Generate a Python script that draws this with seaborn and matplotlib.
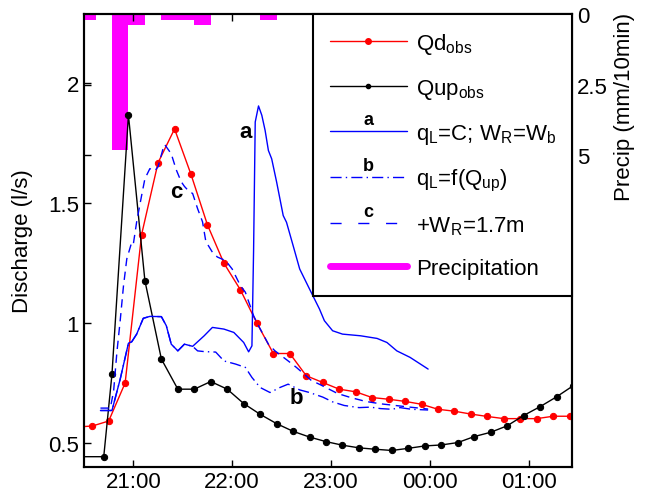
import matplotlib
matplotlib.use("Agg")
import matplotlib.pyplot as plt
from matplotlib.lines import Line2D
from matplotlib.ticker import FuncFormatter
import seaborn as sns
import pandas as pd

sns.set_style("ticks", {"xtick.direction": "in", "ytick.direction": "in",
                        "axes.edgecolor": "black", "xtick.color": "black",
                        "ytick.color": "black", "text.color": "black",
                        "axes.labelcolor": "black"})
plt.rcParams["font.family"] = ["Liberation Sans", "DejaVu Sans"]
plt.rcParams["mathtext.default"] = "regular"

# observed discharge, 10 min steps
qd_start = "20:25"
qd_obs = [0.565, 0.569, 0.590, 0.749, 1.369, 1.669, 1.810, 1.620, 1.409, 1.249,
          1.138, 0.999, 0.872, 0.872, 0.779, 0.751, 0.723, 0.712, 0.688, 0.681,
          0.672, 0.660, 0.639, 0.631, 0.619, 0.609, 0.600, 0.600, 0.600, 0.610, 0.610]

qup_first_times = ["20:27", "20:42", "20:47"]
qup_start = "20:57"
qup_obs = [0.441, 0.441, 0.786,
           1.868, 1.176, 0.849, 0.723, 0.723, 0.755, 0.723, 0.663, 0.618, 0.579,
           0.547, 0.523, 0.504, 0.489, 0.478, 0.472, 0.467, 0.476, 0.486, 0.490,
           0.500, 0.525, 0.543, 0.570, 0.613, 0.650, 0.691, 0.737]

# model runs
a_times = ["20:40", "20:47", "20:52", "20:57", "20:59", "21:02", "21:06", "21:10",
           "21:17", "21:20", "21:23", "21:27", "21:31", "21:36", "21:43", "21:48",
           "21:55", "22:01", "22:07", "22:10", "22:12", "22:13", "22:14", "22:16",
           "22:18", "22:20", "22:22", "22:24", "22:27", "22:31", "22:33", "22:37",
           "22:41", "22:47", "22:53", "22:56", "23:01", "23:07", "23:18", "23:28",
           "23:34", "23:40", "23:48", "23:59"]
a_vals = [0.634, 0.634, 0.765, 0.915, 0.921, 0.953, 1.019, 1.027, 1.026, 0.988,
          0.911, 0.883, 0.911, 0.902, 0.946, 0.981, 0.974, 0.960, 0.918, 0.879,
          0.904, 1.300, 1.839, 1.906, 1.867, 1.804, 1.720, 1.685, 1.588, 1.448,
          1.420, 1.323, 1.225, 1.141, 1.058, 1.009, 0.967, 0.953, 0.946, 0.935,
          0.918, 0.883, 0.856, 0.807]

b_times = ["20:40", "20:47", "20:52", "20:57", "20:59", "21:02", "21:06", "21:10",
           "21:17", "21:20", "21:23", "21:27", "21:31", "21:36", "21:39", "21:43",
           "21:50", "21:55", "22:02", "22:08", "22:12", "22:17", "22:23", "22:29",
           "22:34", "22:41", "22:47", "22:55", "23:01", "23:08", "23:17", "23:24",
           "23:30", "23:37", "23:42", "23:49", "23:59"]
b_vals = [0.634, 0.634, 0.765, 0.915, 0.921, 0.953, 1.019, 1.027, 1.026, 0.988,
          0.911, 0.883, 0.911, 0.902, 0.883, 0.880, 0.878, 0.841, 0.828, 0.814,
          0.772, 0.730, 0.709, 0.730, 0.744, 0.720, 0.709, 0.690, 0.670, 0.655,
          0.646, 0.648, 0.642, 0.639, 0.646, 0.639, 0.636]

c_times = ["20:40", "20:46", "20:48", "20:50", "20:52", "20:54", "20:56", "20:59",
           "21:00", "21:02", "21:05", "21:07", "21:10", "21:13", "21:15", "21:18",
           "21:19", "21:23", "21:26", "21:29", "21:31", "21:33", "21:36", "21:39",
           "21:42", "21:44", "21:48", "21:51", "21:56", "22:00", "22:05", "22:08",
           "22:13", "22:16", "22:22", "22:26", "22:34", "22:39", "22:48", "22:54",
           "23:04", "23:12", "23:21", "23:30", "23:39", "23:48", "23:59"]
c_vals = [0.644, 0.644, 0.715, 0.878, 1.010, 1.155, 1.267, 1.337, 1.330, 1.422,
          1.532, 1.602, 1.644, 1.635, 1.652, 1.727, 1.745, 1.706, 1.640, 1.590,
          1.570, 1.555, 1.540, 1.477, 1.422, 1.340, 1.295, 1.275, 1.260, 1.225,
          1.155, 1.128, 1.030, 0.988, 0.911, 0.883, 0.841, 0.814, 0.760, 0.740,
          0.705, 0.688, 0.672, 0.662, 0.655, 0.648, 0.640]

# precipitation, 10 min totals
precip_times = ["20:27", "20:47", "20:57", "21:17", "21:27", "21:37", "22:17"]
precip = [0.2, 4.8, 0.4, 0.2, 0.2, 0.4, 0.2]

tick_times = ["21:00", "22:00", "23:00", "00:00", "01:00"]
legend_labels = [r"Qd$_{obs}$", r"Qup$_{obs}$", r"q$_L$=C; W$_R$=W$_b$",
                 r"q$_L$=f(Q$_{up}$)", r"+W$_R$=1.7m", "Precipitation"]

T0 = pd.Timestamp("2000-01-01 20:00")


def clock(times):
    # "HH:MM" -> hours after 20:00 (past midnight rolls over)
    out = []
    for t in times:
        h, m = t.split(":")
        v = int(h) + int(m) / 60 - 20
        if v < 0:
            v += 24
        out.append(v)
    return out


def regular(start, n):
    idx = pd.date_range(pd.Timestamp("2000-01-01 " + start), periods=n, freq="10min")
    return list((idx - T0) / pd.Timedelta(hours=1))


qd_x = regular(qd_start, len(qd_obs))
qup_x = clock(qup_first_times) + regular(qup_start, len(qup_obs) - 3)

fig, ax = plt.subplots(figsize=(6.49, 5.02), dpi=100)
fig.subplots_adjust(left=0.1294, right=0.8814, bottom=0.0687, top=0.9701)

ax2 = ax.twinx()
ax2.bar(clock(precip_times), precip, width=1 / 6, align="edge", color="magenta", linewidth=0)
ax2.set_ylim(16, 0)
ax2.set_yticks([0, 2.5, 5])
ax2.yaxis.set_major_formatter(FuncFormatter(lambda v, p: f"{v:g}"))
ax2.tick_params(axis="y", direction="in", left=True, right=True, labelleft=False,
                labelright=True, length=5, width=1, labelsize=16)
ax2.set_ylabel("Precip (mm/10min)", fontsize=16)
ax2.yaxis.set_label_coords(1.085, 0.797)

ax.set_zorder(ax2.get_zorder() + 1)
ax.patch.set_visible(False)

sns.lineplot(x=qd_x, y=qd_obs, ax=ax, color="red", marker="o", markersize=4.5,
             markeredgecolor="red", linewidth=1, estimator=None, sort=False)
sns.lineplot(x=qup_x, y=qup_obs, ax=ax, color="black", marker="o", markersize=4.5,
             markeredgecolor="black", linewidth=1, estimator=None, sort=False)
sns.lineplot(x=clock(a_times), y=a_vals, ax=ax, color="blue", linewidth=1,
             estimator=None, sort=False)
sns.lineplot(x=clock(b_times), y=b_vals, ax=ax, color="blue", linewidth=1,
             linestyle=(0, (8, 3, 1, 3)), estimator=None, sort=False)
sns.lineplot(x=clock(c_times), y=c_vals, ax=ax, color="blue", linewidth=1,
             linestyle=(0, (6, 4)), estimator=None, sort=False)

ax.text(clock(["22:08"])[0], 1.80, "a", fontsize=16, fontweight="bold", ha="center", va="center")
ax.text(clock(["22:39"])[0], 0.69, "b", fontsize=16, fontweight="bold", ha="center", va="center")
ax.text(clock(["21:26"])[0], 1.55, "c", fontsize=16, fontweight="bold", ha="center", va="center")

ax.set_xlim(0.5, 5.44)
ax.set_ylim(0.4, 2.29)
ax.set_xticks(clock(tick_times))
ax.set_xticklabels(tick_times)
ax.set_yticks([0.5, 1, 1.5, 2])
ax.yaxis.set_major_formatter(FuncFormatter(lambda v, p: f"{v:g}"))
ax.tick_params(direction="in", length=5, width=1, labelsize=16, top=True)
ax.set_ylabel("Discharge (l/s)", fontsize=16)
ax.yaxis.set_label_coords(-0.105, 0.5)
for a in (ax, ax2):
    for s in a.spines.values():
        s.set_linewidth(1.5)

handles = [
    Line2D([], [], color="red", marker="o", markersize=4, linewidth=1),
    Line2D([], [], color="black", marker="o", markersize=3, linewidth=1),
    Line2D([], [], color="blue", linewidth=1),
    Line2D([], [], color="blue", linewidth=1, linestyle=(0, (8, 3, 1, 3))),
    Line2D([], [], color="blue", linewidth=1, linestyle=(0, (8, 12))),
    Line2D([], [], color="magenta", linewidth=5),
]
leg = ax.legend(handles, legend_labels, loc="upper right", bbox_to_anchor=(0.469, 0, 0.531, 1),
                mode="expand", borderaxespad=0, fancybox=False, edgecolor="black",
                framealpha=1, fontsize=16, handlelength=3.5, handletextpad=0.4,
                labelspacing=0.95, borderpad=0.75)
leg.get_frame().set_linewidth(1.5)

fig.canvas.draw()
r = fig.canvas.get_renderer()
for h, s in zip(leg.legend_handles[2:5], "abc"):
    bb = h.get_window_extent(r)
    ax.annotate(s, xy=((bb.x0 + bb.x1) / 2, bb.y1 + 3), xycoords="figure pixels",
                ha="center", va="bottom", fontweight="bold", fontsize=13, zorder=10)

fig.savefig("out.png", dpi=100)
